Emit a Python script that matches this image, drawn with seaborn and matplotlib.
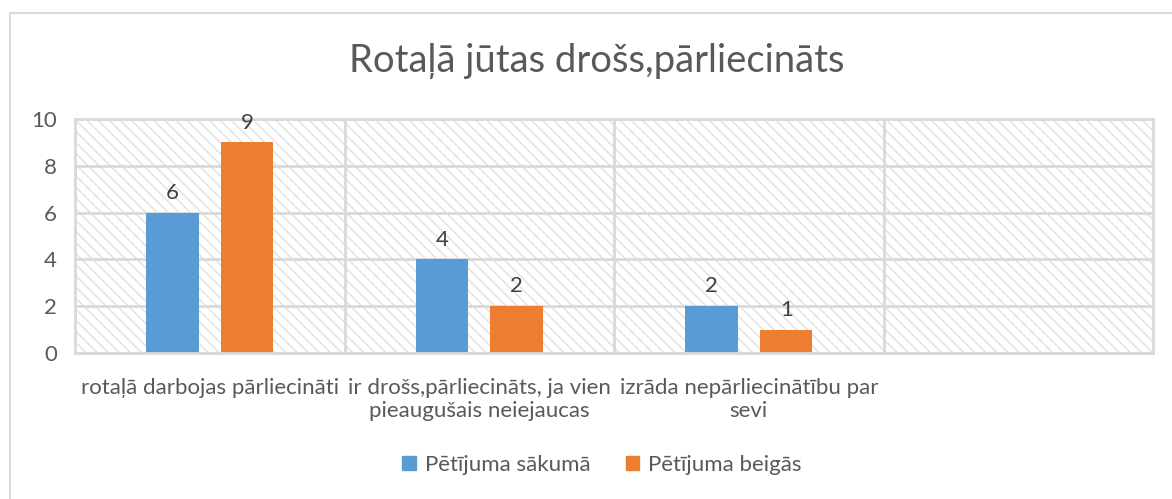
import matplotlib
matplotlib.use("Agg")
import matplotlib.pyplot as plt
import seaborn as sns
import pandas as pd
import numpy as np
from matplotlib.lines import Line2D

categories = ["rotaļā darbojas pārliecināti",
              "ir drošs,pārliecināts, ja vien\npieaugušais neiejaucas",
              "izrāda nepārliecinātību par\nsevi",
              " "]
series_names = ["Pētījuma sākumā", "Pētījuma beigās"]
start_values = [6, 4, 2, np.nan]
end_values = [9, 2, 1, np.nan]
title = "Rotaļā jūtas drošs,pārliecināts"
yticks = [0, 2, 4, 6, 8, 10]
colors = ["#5B9BD5", "#ED7D31"]

df = pd.DataFrame({
    "cat": categories * 2,
    "series": [series_names[0]] * 4 + [series_names[1]] * 4,
    "value": start_values + end_values,
})

sns.set_theme(style="white")
plt.rcParams["font.family"] = ["Lato", "DejaVu Sans"]
plt.rcParams["hatch.linewidth"] = 1.1

text_col = "#595959"
grid_col = "#D9D9D9"

fig = plt.figure(figsize=(11.72, 4.99), dpi=100)
ax = fig.add_axes([75 / 1172, 1 - 353 / 499, (1153 - 75) / 1172, (353 - 119) / 499])

sns.barplot(data=df, x="cat", y="value", hue="series", order=categories,
            hue_order=series_names, palette=colors, width=0.556, gap=0.3,
            ax=ax, legend=True, saturation=1, errorbar=None, linewidth=0)

ax.patch.set_facecolor("white")
ax.patch.set_hatch("\\" * 3)
ax.patch.set_edgecolor("#E3E3E3")

ax.set_ylim(0, 10)
ax.set_xlim(-0.5, len(categories) - 0.5)
ax.set_yticks(yticks)
ax.set_yticklabels([str(t) for t in yticks])
ax.set_xticks(range(len(categories)))
ax.set_xticklabels(categories)
ax.set_xticks([i + 0.5 for i in range(len(categories) - 1)], minor=True)
ax.grid(axis="y", which="major", color=grid_col, linewidth=2)
ax.grid(axis="x", which="minor", color=grid_col, linewidth=2)
ax.grid(axis="x", which="major", visible=False)
ax.set_axisbelow(True)
ax.tick_params(axis="both", which="both", length=0, colors=text_col, labelsize=16)
ax.tick_params(axis="x", pad=18)
ax.tick_params(axis="y", pad=13)
for lbl in ax.get_yticklabels() + ax.get_xticklabels():
    lbl.set_color(text_col)
ax.set_xlabel("")
ax.set_ylabel("")
for s in ["top", "left", "right", "bottom"]:
    ax.spines[s].set_color(grid_col)
    ax.spines[s].set_linewidth(2)

for cont in ax.containers:
    ax.bar_label(cont, fmt="%g", padding=7, fontsize=16, color="#404040")

ax.legend_.remove()
handles = [plt.Rectangle((0, 0), 1, 1, color=c) for c in colors]
fig.legend(handles, series_names, loc="center", bbox_to_anchor=(602 / 1172, 1 - 465 / 499),
           ncol=2, frameon=False, fontsize=16, labelcolor=text_col,
           handlelength=0.6, handleheight=0.6, columnspacing=1.6, handletextpad=0.4)

fig.text(596.5 / 1172, 1 - 61 / 499, title, ha="center", va="center", fontsize=27.5, color=text_col)

fig.add_artist(Line2D([10 / 1172, 10 / 1172], [0, 1 - 13 / 499], color=grid_col, linewidth=1.5,
                      transform=fig.transFigure))
fig.add_artist(Line2D([10 / 1172, 1], [1 - 13 / 499, 1 - 13 / 499], color=grid_col, linewidth=1.5,
                      transform=fig.transFigure))

fig.savefig("out.png", dpi=100)
